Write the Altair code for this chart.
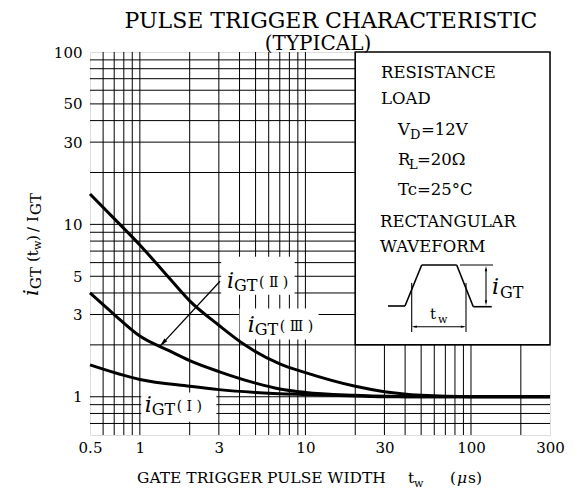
import altair as alt
import pandas as pd

# ---------------- data ----------------
TW3 = [0.5, 0.7, 1, 1.5, 2, 3, 4.3, 7, 10, 20, 30, 50, 100, 300]
IGT3 = [15, 10.8, 7.6, 4.9, 3.6, 2.6, 2.0, 1.55, 1.38, 1.15, 1.07, 1.02, 1.0, 1.0]
TW2 = [0.5, 0.7, 1, 1.5, 2, 3, 5, 7, 10, 20, 50, 100, 300]
IGT2 = [4.0, 3.0, 2.25, 1.85, 1.62, 1.4, 1.2, 1.11, 1.06, 1.02, 1.0, 1.0, 1.0]
TW1 = [0.5, 1, 2, 3, 5, 10, 20, 30, 100, 300]
IGT1 = [1.53, 1.26, 1.15, 1.1, 1.06, 1.03, 1.01, 1.0, 1.0, 1.0]

X_TICKS = [0.5, 1, 3, 10, 30, 100, 300]
Y_TICKS = [1, 3, 5, 10, 30, 50, 100]
VGRID = [0.6, 0.7, 0.8, 0.9, 1, 2, 3, 4, 5, 6, 7, 8, 9, 10,
         20, 30, 40, 50, 60, 70, 80, 90, 100, 200]
HGRID = [0.7, 0.8, 0.9, 1, 2, 3, 4, 5, 6, 7, 8, 9, 10,
         20, 30, 40, 50, 60, 70, 80, 90]

curves = pd.concat([
    pd.DataFrame({"x": TW3, "y": IGT3, "s": "III"}),
    pd.DataFrame({"x": TW2, "y": IGT2, "s": "II"}),
    pd.DataFrame({"x": TW1, "y": IGT1, "s": "I"}),
])

# ---------------- layout ----------------
X0, Y0 = 90, 52          # page position of plot origin
W, H = 460, 383
SERIF = "DejaVu Serif"
ROMAN = "DejaVu Serif, Noto Sans CJK JP"
ONE = alt.Data(values=[{"k": 0}])

xs = alt.Scale(type="log", domain=[0.5, 300], nice=False)
ys = alt.Scale(type="log", domain=[0.6, 100], nice=False)
xaxis = alt.Axis(values=X_TICKS, format="~g", title=None, grid=False, domain=False,
                 ticks=False, labelFont=SERIF, labelFontSize=15, labelColor="black",
                 labelPadding=5, labelFlush=False, labelOverlap=False)
yaxis = alt.Axis(values=Y_TICKS, format="~g", title=None, grid=False, domain=False,
                 ticks=False, labelFont=SERIF, labelFontSize=15, labelColor="black",
                 labelPadding=8, labelOverlap=False)


def X(f="x"):
    return alt.X(f"{f}:Q", scale=xs, axis=xaxis)


def Y(f="y"):
    return alt.Y(f"{f}:Q", scale=ys, axis=yaxis)


layers = []
layers.append(alt.Chart(pd.DataFrame({"x": VGRID})).mark_rule(color="black", strokeWidth=1)
              .encode(x=X()))
layers.append(alt.Chart(pd.DataFrame({"y": HGRID})).mark_rule(color="black", strokeWidth=1)
              .encode(y=Y()))

# white backgrounds behind the curve labels (cut the grid like the original)
label_bg = pd.DataFrame({"x": [3.1, 4.0, 1.02], "x2": [8.6, 12, 2.9],
                         "y": [3.9, 2.15, 0.715], "y2": [6.5, 3.25, 1.06]})
layers.append(alt.Chart(label_bg).mark_rect(fill="white", stroke=None)
              .encode(x=X(), x2="x2", y=Y(), y2="y2"))

# conditions box
box = pd.DataFrame({"x": [20], "x2": [300], "y": [2], "y2": [100]})
layers.append(alt.Chart(box).mark_rect(fill="white", stroke="black", strokeWidth=1.5)
              .encode(x=X(), x2="x2", y=Y(), y2="y2"))

# curves
layers.append(alt.Chart(curves).mark_line(color="black", strokeWidth=3, interpolate="monotone")
              .encode(x=X(), y=Y(), detail="s:N"))

# arrow pointing at the iGT(II) curve
arrow = pd.DataFrame({"x": [3.05, 1.32], "y": [4.68, 1.96]})
layers.append(alt.Chart(arrow).mark_line(color="black", strokeWidth=1.3).encode(x=X(), y=Y()))
HEAD = "M0,0L0.5,2.2L-0.5,2.2Z"
layers.append(alt.Chart(arrow.iloc[[1]]).mark_point(shape=HEAD, filled=True, size=64, angle=223,
                                                    color="black", opacity=1)
              .encode(x=X(), y=Y()))


def dtext(s, xv, yv, size, dx=0, dy=0, italic=False, font=SERIF):
    return alt.Chart(pd.DataFrame({"x": [xv], "y": [yv]})).mark_text(
        text=s, font=font, fontSize=size, fontStyle="italic" if italic else "normal",
        align="left", baseline="alphabetic", dx=dx, dy=dy, color="black"
    ).encode(x=X(), y=Y())


def curve_label(roman, xv, yv):
    return [dtext("i", xv, yv, 22, italic=True),
            dtext("GT", xv, yv, 16, dx=7, dy=3),
            dtext("( " + roman + " )", xv, yv, 14, dx=32, dy=-1, font=ROMAN)]


layers += curve_label("Ⅱ", 3.36, 4.3)
layers += curve_label("Ⅲ", 4.49, 2.36)
layers += curve_label("Ⅰ", 1.07, 0.818)


def ptext(s, px, py, size, italic=False, angle=0, align="left", font=SERIF):
    return alt.Chart(ONE).mark_text(
        text=s, font=font, fontSize=size, fontStyle="italic" if italic else "normal",
        align=align, baseline="alphabetic", angle=angle, color="black"
    ).encode(x=alt.value(px - X0), y=alt.value(py - Y0))


def seg(x1, y1, x2, y2, w=1.3):
    return alt.Chart(ONE).mark_rule(color="black", strokeWidth=w).encode(
        x=alt.value(x1 - X0), y=alt.value(y1 - Y0),
        x2=alt.value(x2 - X0), y2=alt.value(y2 - Y0))


def head(px, py, ang, size=22):
    return alt.Chart(ONE).mark_point(shape=HEAD, filled=True, size=size, angle=ang,
                                     color="black", opacity=1).encode(
        x=alt.value(px - X0), y=alt.value(py - Y0))


# titles
layers.append(ptext("PULSE TRIGGER CHARACTERISTIC", 331, 28, 22, align="center"))
layers.append(ptext("(TYPICAL)", 318, 50, 20, align="center"))

# x-axis title
layers.append(ptext("GATE TRIGGER PULSE WIDTH", 137, 483, 15.5))
layers.append(ptext("t", 408, 483, 15.5))
layers.append(ptext("w", 414, 487, 11))
layers.append(ptext("(", 450, 483, 15.5))
layers.append(ptext("μ", 457, 483, 15.5, italic=True))
layers.append(ptext("s)", 468, 483, 15.5))

# y-axis title (rotated)
layers.append(ptext("i", 38, 296, 21, italic=True, angle=270))
layers.append(ptext("GT", 41, 289, 15, angle=270))
layers.append(ptext("(t", 38, 262, 15, angle=270))
layers.append(ptext("w", 41, 250, 11, angle=270))
layers.append(ptext(")", 38, 241, 15, angle=270))
layers.append(ptext("/", 38, 232, 15, angle=270))
layers.append(ptext("I", 38, 222, 15, angle=270))
layers.append(ptext("GT", 41, 215, 15, angle=270))

# conditions text
layers.append(ptext("RESISTANCE", 381, 78, 16.5))
layers.append(ptext("LOAD", 381, 104, 16.5))
layers.append(ptext("V", 398, 135, 16.5))
layers.append(ptext("D", 410, 139, 13))
layers.append(ptext("=12V", 421, 135, 16.5))
layers.append(ptext("R", 398, 165, 16.5))
layers.append(ptext("L", 409, 169, 13))
layers.append(ptext("=20Ω", 417, 165, 16.5))
layers.append(ptext("Tc=25°C", 398, 195, 16.5))
layers.append(ptext("RECTANGULAR", 380, 227, 16.5))
layers.append(ptext("WAVEFORM", 380, 252, 16.5))

# waveform icon
layers += [
    seg(388, 306, 405, 306, 1.6), seg(405, 306, 421.7, 265, 1.6), seg(421.7, 265, 456.7, 265, 1.6),
    seg(456.7, 265, 473.3, 306.7, 1.6), seg(473.3, 306.7, 491.7, 306.7, 1.6),
    seg(460, 265, 493, 265, 1.1),
    seg(411.7, 283, 411.7, 332, 1.1), seg(466, 283, 466, 332, 1.1),
    seg(414, 326.7, 463.5, 326.7, 1.1), seg(486, 269, 486, 302.5, 1.1),
    head(411.7, 326.7, 270), head(466, 326.7, 90),
    head(486, 266, 0), head(486, 305.5, 180),
]
layers.append(ptext("t", 430, 319, 15))
layers.append(ptext("w", 438, 323, 11))
layers.append(ptext("i", 492, 294, 22, italic=True))
layers.append(ptext("GT", 500, 298, 16))

chart = alt.layer(*layers).properties(
    width=W, height=H,
    autosize=alt.AutoSizeParams(type="none"),
    padding={"left": X0 - 8, "top": Y0 - 8, "right": 20, "bottom": 62},
).configure_view(stroke="black", strokeWidth=2).configure(background="white")

chart.save("out.html", embed_options={"renderer": "svg", "actions": False})
